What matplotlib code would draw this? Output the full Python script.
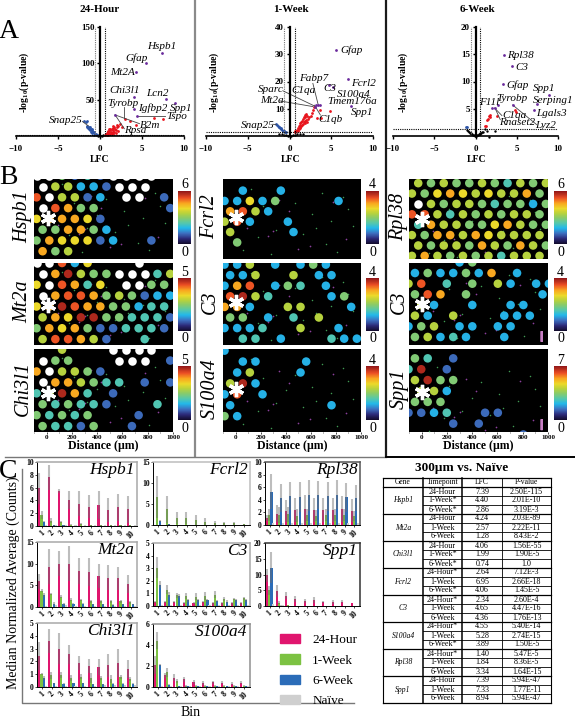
from __future__ import annotations

import matplotlib

matplotlib.use("Agg")

import matplotlib.pyplot as plt
import numpy as np
from matplotlib.cm import ScalarMappable
from matplotlib.colors import LinearSegmentedColormap, Normalize
from matplotlib.patches import Circle, Patch

plt.rcParams["font.family"] = ["Liberation Serif", "DejaVu Serif"]
plt.rcParams["mathtext.fontset"] = "custom"
plt.rcParams["mathtext.rm"] = "Liberation Serif"
plt.rcParams["mathtext.bf"] = "Liberation Serif:bold"
plt.rcParams["mathtext.it"] = "Liberation Serif:italic"

W, H = 575, 718

# --- panel A: volcano plots
RED = "#e8141c"
BLUE = "#2d55a8"
PURPLE = "#6a2a9c"

H24_RED_X = [0.6, 0.7, 0.8, 0.9, 1.0, 1.0, 1.1, 1.2, 1.2, 1.3, 1.4, 1.4, 1.5, 1.5, 1.6, 1.7, 1.7, 1.8, 1.9, 2.0,
             2.0, 2.1, 2.2, 2.4, 2.6, 0.8, 1.0, 1.3, 1.6, 1.9, 3.0, 3.6, 4.3, 6.4, 7.5, 0.9, 1.1, 1.2, 1.5]
H24_RED_Y = [1.5, 3, 4, 5, 3, 7, 5, 8, 3, 6, 9, 4, 11, 5, 8, 13, 6, 10, 8, 15,
             12, 7, 14, 17, 12, 2, 2, 2.5, 3, 4, 24, 20, 15, 25, 23, 6, 9, 10, 14]
H24_BLUE_X = [-0.3, -0.4, -0.5, -0.6, -0.7, -0.7, -0.8, -0.9, -0.9, -1.0, -1.0, -1.1, -1.1, -1.2, -1.2, -1.3, -1.3,
              -1.4, -1.5, -1.6, -1.6, -1.9, -1.7]
H24_BLUE_Y = [1, 2, 3, 3, 5, 2, 6, 4, 8, 5, 9, 6, 10, 8, 12, 9, 13, 11, 12, 14, 20, 20, 19]
H24_BLACK_X = [-0.4, -0.2, 0.0, 0.2, 0.4]
H24_BLACK_Y = [1.0, 0.5, 0.2, 0.5, 1.0]
H24_PURPLE_X = [7.4, 5.5, 4.3, 4.0, 7.8, 8.9, 4.1, 4.4, 1.8]
H24_PURPLE_Y = [114, 100, 88, 54, 51, 45, 37, 27, 29]
H24_LABELS = [("Hspb1", 5.65, 122.5), ("Gfap", 3.0, 106.5), ("Mt2A", 1.2, 88), ("Chi3l1", 1.07, 62),
              ("Lcn2", 5.5, 58.5), ("Tyrobp", 0.87, 45), ("Igfbp2", 4.5, 39), ("Spp1", 8.3, 38),
              ("Tspo", 7.9, 26.5), ("B2m", 4.7, 14.6), ("Rpsa", 2.9, 7), ("Snap25", -6.1, 21)]
H24_LEADERS = [(2.85, 40, 2.85, 25), (4.4, 27, 7.7, 27), (1.8, 29, 2.9, 10), (1.8, 29, 4.7, 17), (-2.1, 20, -1.4, 14)]

W1_RED_X = [0.6, 0.7, 0.8, 0.9, 1.0, 1.0, 1.1, 1.1, 1.2, 1.2, 1.3, 1.3, 1.4, 1.4, 1.5, 1.5, 1.6, 1.6, 1.7, 1.7,
            1.8, 1.8, 1.9, 1.9, 2.0, 2.0, 2.1, 2.1, 2.2, 2.3, 2.6, 2.7, 2.8, 3.3, 3.8, 4.8, 2.9, 3.6]
W1_RED_Y = [1.4, 1.7, 2, 2.3, 2, 3, 2.5, 3.5, 3, 4, 3.4, 4.6, 3.6, 5, 4.2, 5.6, 4.4, 6.2, 5, 6.8,
            4.6, 7, 5.4, 7.6, 6, 8, 5.2, 7.4, 6.4, 6.8, 7.4, 8.4, 9.6, 6.6, 6.5, 9, 10.6, 9.6]
W1_BLUE_X = [-0.4, -0.5, -0.6, -0.7, -0.8, -0.9, -1.0, -1.0, -1.1, -1.2, -1.3, -1.4, -1.5, -1.6]
W1_BLUE_Y = [1.4, 1.5, 1.7, 1.9, 2, 2.2, 2.4, 2.8, 2.9, 3.2, 3.4, 3.8, 4.2, 4.4]
W1_BLACK_X = [-1.2, -0.9, -0.6, -0.4, -0.2, 0.0, 0.2, 0.4, 0.6, 0.9, 1.3, 1.6]
W1_BLACK_Y = [0.9, 0.7, 0.5, 0.3, 0.1, 0.0, 0.1, 0.3, 0.5, 0.7, 0.6, 0.8]
W1_PURPLE_X = [5.57, 6.96, 4.7, 5.25, 7.35, 3.2, 3.4, 3.6, 3.0]
W1_PURPLE_Y = [31.7, 20.9, 18.7, 17.8, 11, 11.3, 11.5, 11.5, 10.6]
W1_LABELS = [("Gfap", 6.05, 31.5), ("Fabp7", 1.2, 21.1), ("Sparc", -3.8, 17), ("C1qa", 0.2, 16.6), ("C3", 4, 17.4),
             ("Fcrl2", 7.35, 19.3), ("S100a4", 5.65, 15.4), ("Tmem176a", 4.55, 12.6), ("Mt2a", -3.5, 12.9),
             ("Spp1", 7.4, 8.5), ("C1qb", 3.5, 6.1), ("Snap25", -5.85, 4)]
W1_LEADERS = [(-0.8, 16.6, 3, 11), (-1.2, 12.9, 2.8, 10.8), (2.8, 19.3, 3.45, 11.3), (3, 11.3, 3.7, 7.7),
              (-2, 4.3, -1.6, 4.2)]

W6_RED_X = [4.8, 4.9, 2.6, 1.8, 1.6, 1.4, 1.3, 1.1, 1.7, 1.5]
W6_RED_Y = [4.8, 4.4, 3.7, 3.9, 3.7, 2.9, 1.9, 1.8, 3.4, 3.2]
W6_BLUE_X = [-1.0, -1.1]
W6_BLUE_Y = [1.7, 1.6]
W6_BLACK_X = [-1, -0.9, -0.8, -0.7, -0.6, -0.5, -0.4, -0.3, -0.2, -0.1, 0, 0.1, 0.2, 0.3, 0.4, 0.5, 0.6, 0.7, 0.8,
              0.9, 1.2, 1.4, 2.4, 1.6]
W6_BLACK_Y = [1.1, 0.9, 0.8, 0.6, 0.5, 0.4, 0.3, 0.2, 0.1, 0.05, 0, 0.05, 0.1, 0.2, 0.3, 0.4, 0.5, 0.6, 0.7,
              0.8, 1.2, 0.9, 0.9, -0.1]
W6_PURPLE_X = [3.4, 4.4, 3.3, 8.85, 7.4, 7.15, 2.7, 2.0, 2.4, 4.5]
W6_PURPLE_Y = [14.8, 12.8, 9.6, 7.5, 5.8, 4.85, 5.7, 5.1, 5.1, 5.7]
W6_LABELS = [("Rpl38", 3.8, 14.7), ("C3", 4.85, 12.6), ("Gfap", 3.7, 9.4), ("Spp1", 7.0, 8.65),
             ("Serping1", 7.0, 6.6), ("Tyrobp", 2.5, 6.9), ("F11l", 0.4, 6.2), ("Lgals3", 7.3, 4.05),
             ("C1qa", 3.2, 3.75), ("Rnaset2", 2.85, 2.5), ("Lyz2", 7.2, 2.0)]
W6_LEADERS = [(2.3, 5.15, 3.2, 3.75), (2.4, 5.0, 3.0, 3.0), (4.5, 5.7, 7.4, 2.1)]

# --- panel B: one string per row of spots. "." = no signal, "W" = saturated, 1-9 = colour bar level
HSPB1_SPOTS = ["WW4131WWWW.", "W55221WWW..", "8W5512.WW.1", "W8744.....1",
               "677761.....", "447742.....", "4766612..1.", "745........"]
MT2A_SPOTS = ["WW826...W..", "W7954 4WWW35".replace(" ", ""), "6W8736.WW44", "W788745 4122".replace(" ", ""),
              "67987744233", "57699443331", "47674113331", "58875 1..3..".replace(" ", "")]
CHI3L1_SPOTS = ["..5...WWWW.", "W44...WWW.1", "7W5541.....", "W7754 33.1.1".replace(" ", ""),
                "35973.1....", "434331...3.".replace("434331", "43433 1".replace(" ", "")), "43434...1..", "43314..1..."]
FCRL2_SPOTS = ["...........", ".2..2......", "22624....2.", "7852.......",
               "582..2.....", "5....2.....", ".4.........", "..........."]
C3_W1_SPOTS = ["225.2.242..", "225..5.22..", "278.243.2..", "8953....24.",
               "772..55...2", "44.2.3.5...", "2223..5..2.", ".33.2...322"]
S100A4_SPOTS = ["2..........", ".22...2....", ".25...2....", "592........",
                "28.2.......", "2.......2..", "42.........", "..........."]
RPL38_SPOTS = ["54544543545", "54676565574", "W5455434424", "88535454554",
               "37554467544", "54775765555", "54554754754", "57545453555"]
C3_W6_SPOTS = ["....24.....", "2422427.2..", "58.3.4.52.22", "487.4.....2",
               ".52..2..22.", "52.5...222.", "245.22.22..", "45232..2..."]
SPP1_SPOTS = ["43.1.......", "39.1.......", "5944.......", ".552.......",
              "444........", "1123..11...", "...1.1.....", ".........1."]

SPOT_COLS = [
    [("Hspb1", HSPB1_SPOTS, 6), ("Mt2a", MT2A_SPOTS, 5), ("Chi3l1", CHI3L1_SPOTS, 5)],
    [("Fcrl2", FCRL2_SPOTS, 4), ("C3", C3_W1_SPOTS, 4), ("S100a4", S100A4_SPOTS, 4)],
    [("Rpl38", RPL38_SPOTS, 6), ("C3", C3_W6_SPOTS, 4), ("Spp1", SPP1_SPOTS, 7)],
]
# x of left spot in the two kinds of row, first row kind, row limits, asterisk (x, row)
SPOT_LAYOUT = [
    [(-80, -32, 0, 0.3, 7.72, 13, 3.94), (-80, -32, 0, 0.0, 7.54, 10, 3.9), (-80, -32, 0, -0.06, 7.54, 10, 3.95)],
    [(-88, -43, 0, -0.12, 7.6, 0, 3.5), (-88, -43, 0, -0.15, 7.6, 0, 3.5), (-88, -43, 0, -0.15, 7.45, 0, 3.5)],
    [(-77, -27, 1, -0.4, 7.3, 0, 3.45), (-104, -53, 0, 0.06, 7.75, 0, 3.9), (-104, -53, 1, -0.86, 6.77, 0, 3.05)],
]
SPOT_ROWS_PX = [(179, 259), (263, 345), (349, 432)]
SPOT_COLS_PX = [(34, 173), (223, 361), (409, 548)]
BAR_COLS_PX = [(178, 191), (366, 379), (554, 567)]
BAR_ROWS_PX = [(191, 244), (278, 331), (366, 420)]
GENE_X_PX = [23, 210, 399]
DUST_GREEN_X = [60, 175, 320, 470, 610, 720, 860, 940, 120, 280, 540, 690, 810, 400, 640, 900, 220, 760]
DUST_GREEN_Y = [6.7, 5.5, 4.8, 2.2, 3.3, 6.2, 1.6, 4.4, 0.8, 7.1, 5.2, 1.2, 6.9, 3.6, 4.6, 2.8, 2.5, 3.9]
DUST_PURPLE_X = [90, 260, 300, 430, 590, 780, 500, 350, 880]
DUST_PURPLE_Y = [4.6, 5.4, 4.9, 3.0, 6.3, 2.1, 6.6, 1.9, 5.7]

SPOT_CMAP = LinearSegmentedColormap.from_list("spots", [
    (0.0, "#120a2a"), (0.1, "#2c2a78"), (0.2, "#3d6fc0"), (0.3, "#22b8ea"), (0.4, "#58c8a8"), (0.5, "#8ccb66"),
    (0.58, "#b8d23c"), (0.67, "#ecd92a"), (0.77, "#f9a51f"), (0.87, "#ec4e24"), (1.0, "#8e1518"),
])

# --- panel C: bar charts
BINS = [1, 2, 3, 4, 5, 6, 7, 8, 9, 10]
SERIES_NAMES = ["24-Hour", "1-Week", "6-Week", "Naïve"]
SERIES_COLORS = ["#e0156e", "#7cc242", "#2b6cb8", "#cfcfcf"]

HSPB1_MEAN = [[5.9, 7.6, 5.5, 4.1, 3.5, 3.0, 3.3, 2.5, 2.9, 2.6],
              [1.7, 0.8, 0.6, 0.2, 0.3, 0.1, 0.1, 0.1, 0.1, 0.1],
              [0.7, 0.1, 0.1, 0.05, 0.05, 0.05, 0.05, 0.05, 0.05, 0.05],
              [0.2, 0.1, 0.1, 0.1, 0.1, 0.1, 0.1, 0.1, 0.1, 0.1]]
HSPB1_ERR = [[2.4, 2.0, 0.3, 1.4, 2.0, 1.8, 2.2, 1.8, 2.1, 2.1],
             [0.6, 0.4, 0.2, 0.1, 0.1, 0.05, 0.05, 0.05, 0.05, 0.05],
             [0.1, 0.05, 0.05, 0, 0, 0, 0, 0, 0, 0]]
MT2A_MEAN = [[5.9, 9.3, 10, 10, 8.2, 8.0, 7.2, 6.8, 6.6, 5.4],
             [3.8, 3.0, 2.4, 1.7, 1.6, 1.3, 1.3, 1.3, 1.3, 1.1],
             [2.8, 0.8, 0.7, 0.8, 0.8, 0.6, 0.6, 0.5, 0.6, 0.6],
             [0.3, 0.5, 0.4, 0.3, 0.3, 0.2, 0.2, 0.2, 0.2, 0.2]]
MT2A_ERR = [[1.8, 4.0, 2.9, 4.0, 3.0, 3.2, 2.8, 2.8, 2.7, 2.1],
            [0.4, 0.3, 0.3, 0.3, 0.3, 0.3, 0.3, 0.3, 0.3, 0.3],
            [0.4, 0.3, 0.2, 0.2, 0.2, 0.2, 0.2, 0.2, 0.2, 0.2]]
CHI3L1_MEAN = [[2.4, 3.6, 3.0, 2.55, 1.9, 1.65, 1.55, 1.7, 1.9, 1.4],
               [1.0, 0.9, 0.95, 0.7, 0.8, 0.7, 0.7, 0.6, 0.75, 0.6],
               [0.7, 0.3, 0.25, 0.3, 0.3, 0.2, 0.2, 0.25, 0.25, 0.25],
               [0.1, 0.1, 0.1, 0.1, 0.1, 0.1, 0.15, 0.15, 0.15, 0.15]]
CHI3L1_ERR = [[1.1, 0.95, 1.2, 0.75, 0.55, 0.55, 0.6, 0.9, 1.1, 0.7],
              [0.1, 0.3, 0.25, 0.2, 0.2, 0.4, 0.15, 0.3, 0.15, 0.15],
              [0.15, 0.05, 0.05, 0.05, 0.05, 0.05, 0.05, 0.05, 0.05, 0.05]]
FCRL2_MEAN = [[0.05, 0.05, 0.05, 0.05, 0.05, 0.05, 0.05, 0.05, 0.05, 0.05],
              [6.7, 3.7, 1.7, 1.7, 1.2, 0.7, 0.5, 0.4, 0.4, 0.2],
              [1.0, 0.2, 0.1, 0.05, 0.05, 0.05, 0.05, 0.05, 0.05, 0.05],
              [0.1, 0.1, 0.1, 0.1, 0.1, 0.1, 0.1, 0.1, 0.1, 0.1]]
FCRL2_ERR = [[0, 0, 0, 0, 0, 0, 0, 0, 0, 0],
             [5.0, 3.2, 1.5, 1.5, 1.2, 0.9, 0.5, 0.3, 0.3, 0.1],
             [0.2, 0.1, 0, 0, 0, 0, 0, 0, 0, 0]]
C3_MEAN = [[0.3, 0.3, 0.3, 0.25, 0.25, 0.3, 0.2, 0.2, 0.2, 0.2],
           [3.05, 1.3, 0.85, 0.8, 0.75, 0.8, 0.9, 0.55, 0.55, 0.6],
           [1.7, 0.9, 0.8, 0.45, 0.45, 0.45, 0.4, 0.35, 0.45, 0.45],
           [0.1, 0.1, 0.1, 0.1, 0.1, 0.1, 0.1, 0.1, 0.1, 0.1]]
C3_ERR = [[0.1, 0.1, 0.1, 0.1, 0.1, 0.1, 0.1, 0.1, 0.1, 0.1],
          [0.8, 0.35, 0.2, 0.25, 0.3, 0.3, 0.3, 0.15, 0.1, 0.1],
          [0.3, 0.2, 0.15, 0.1, 0.1, 0.1, 0.1, 0.1, 0.1, 0.1]]
S100A4_MEAN = [[2.1, 1.1, 0.9, 0.75, 0.45, 0.35, 0.45, 0.4, 0.3, 0.4],
               [4.4, 1.4, 0.6, 0.1, 0.1, 0.1, 0.1, 0.1, 0.1, 0.1],
               [2.1, 0.2, 0.05, 0.05, 0.05, 0.05, 0.05, 0.05, 0.05, 0.05],
               [0.1, 0.1, 0.1, 0.1, 0.1, 0.1, 0.1, 0.1, 0.1, 0.1]]
S100A4_ERR = [[0.9, 0.2, 0.3, 0.25, 0.2, 0.2, 0.15, 0.15, 0.15, 0.15],
              [0.8, 0.4, 0.2, 0.1, 0.05, 0.05, 0.05, 0.05, 0.05, 0.05],
              [0.1, 0.05, 0, 0, 0, 0, 0, 0, 0, 0]]
RPL38_MEAN = [[1.1, 1.8, 2.2, 2.4, 2.5, 2.4, 2.4, 2.4, 2.5, 2.3],
              [1.6, 1.6, 1.7, 1.5, 1.6, 1.5, 1.6, 1.6, 1.6, 1.4],
              [5.3, 4.3, 4.6, 4.4, 4.7, 4.8, 4.6, 4.8, 4.4, 4.3],
              [0.3, 0.3, 0.3, 0.3, 0.3, 0.3, 0.3, 0.3, 0.3, 0.3]]
RPL38_ERR = [[0.5, 1.4, 1.8, 1.9, 2.3, 1.9, 1.9, 1.9, 2.1, 1.8],
             [1.0, 1.3, 1.2, 1.0, 1.0, 0.9, 0.9, 0.9, 0.9, 0.8],
             [2.8, 2.2, 2.2, 2.4, 2.4, 2.2, 2.3, 2.3, 2.3, 2.1]]
SPP1_MEAN = [[9.7, 4.8, 3.3, 2.3, 1.6, 1.8, 1.2, 1.3, 1.4, 0.9],
             [5.0, 1.1, 0.3, 0.1, 0.1, 0.05, 0.05, 0.05, 0.05, 0.05],
             [12.2, 0.1, 0.1, 0.05, 0.05, 0.05, 0.05, 0.05, 0.05, 0.05],
             [0.5, 0.2, 0.1, 0.1, 0.1, 0.1, 0.1, 0.1, 0.1, 0.1]]
SPP1_ERR = [[2.0, 1.8, 1.2, 1.0, 0.7, 0.9, 0.3, 0.7, 0.6, 0.1],
            [1.5, 0.5, 0.1, 0, 0, 0, 0, 0, 0, 0],
            [5.0, 0.1, 0, 0, 0, 0, 0, 0, 0, 0]]

# --- table
TABLE_HEADER = ["Gene", "Timepoint", "LFC", "P-value"]
TABLE_GENES = ["Hspb1", "Mt2a", "Chi3l1", "Fcrl2", "C3", "S100a4", "Rpl38", "Spp1"]
TABLE_TIMES = ["24-Hour", "1-Week*", "6-Week*", "24-Hour", "1-Week", "6-Week", "24-Hour", "1-Week*", "6-Week*",
               "24-Hour*", "1-Week", "6-Week*", "24-Hour*", "1-Week", "6-Week", "24-Hour*", "1-Week", "6-Week*",
               "24-Hour*", "1-Week", "6-Week", "24-Hour", "1-Week", "6-Week"]
TABLE_LFC = ["7.39", "4.40", "2.86", "4.24", "2.57", "1.28", "4.06", "1.99", "0.74", "2.64", "6.95", "4.06",
             "2.34", "4.65", "4.36", "4.55", "5.28", "3.89", "1.40", "1.84", "3.34", "7.39", "7.33", "8.94"]
TABLE_P = ["2.50E-115", "2.01E-10", "3.19E-3", "2.03E-89", "2.22E-11", "8.43E-2", "1.56E-55", "1.90E-5", "1.0",
           "7.12E-3", "2.66E-18", "1.45E-5", "2.60E-4", "4.47E-16", "1.76E-13", "5.40E-14", "2.74E-15", "1.50E-5",
           "5.47E-5", "8.36E-5", "1.64E-15", "5.94E-47", "1.77E-11", "5.94E-47"]


def px_axes(fig, x0, y0, x1, y1, **kwargs):
    # pixel box measured from the top left of the picture
    return fig.add_axes([x0 / W, 1 - y1 / H, (x1 - x0) / W, (y1 - y0) / H], **kwargs)


def volcano(fig, box, ymax, yticks, red, blue, black, purple, labels, leaders):
    ax = px_axes(fig, *box)
    ax.set_xlim(-10, 10)
    ax.set_ylim(0, ymax)
    ax.patch.set_alpha(0)
    for side in ("top", "right"):
        ax.spines[side].set_visible(False)
    ax.spines["left"].set_position(("data", 0))
    ax.spines["left"].set_linewidth(1.6)
    ax.spines["bottom"].set_linewidth(1.2)
    ax.set_xticks([-10, -5, 0, 5, 10])
    ax.set_yticks(yticks)
    ax.tick_params(length=2.5, width=1, pad=1.5, labelsize=6.5)
    for tick in ax.get_xticklabels() + ax.get_yticklabels():
        tick.set_fontweight("bold")
    ax.tick_params(axis="x", pad=4)
    ax.axvline(-0.6, color="#777777", lw=0.8, ls=(0, (1, 1)))
    ax.axvline(0.6, color="black", lw=0.8, ls=(0, (1, 1)))
    ax.axhline(1.3, color="black", lw=0.8, ls=(0, (1, 1)))
    for x0, y0, x1, y1 in leaders:
        ax.plot([x0, x1], [y0, y1], color="#444444", lw=0.6)
    ax.scatter(*black, s=3, color="black", lw=0, clip_on=False)
    ax.scatter(*blue, s=4, color=BLUE, lw=0)
    ax.scatter(*red, s=4, color=RED, lw=0)
    ax.scatter(*purple, s=4, color=PURPLE, lw=0, zorder=4)
    for name, x, y in labels:
        ax.text(x, y, name, fontsize=8, style="italic", va="center", ha="left", zorder=5)
    return ax


def spot_panel(fig, box, rows, vmax, layout, label_ticks):
    x_even, x_odd, parity, row_top, row_bottom, star_x, star_row = layout
    ax = px_axes(fig, *box)
    ax.set_facecolor("black")
    ax.set_xlim(-100, 1000)
    ax.set_ylim(row_bottom, row_top)
    ax.scatter(DUST_GREEN_X, DUST_GREEN_Y, s=1.2, color="#3f9a52", lw=0)
    ax.scatter(DUST_PURPLE_X, DUST_PURPLE_Y, s=1.5, color="#8a3f9c", lw=0)
    xs, ys, vals, white_x, white_y = [], [], [], [], []
    for r, row in enumerate(rows):
        start = x_odd if (r + parity) % 2 else x_even
        for k, ch in enumerate(row):
            x = start + 101 * k
            if ch == "W":
                white_x.append(x)
                white_y.append(r)
            elif ch != ".":
                xs.append(x)
                ys.append(r)
                vals.append((0.1 + 0.095 * int(ch)) * vmax)
    ax.scatter(white_x, white_y, s=38, color="white", lw=0)
    ax.scatter(xs, ys, c=vals, s=38, cmap=SPOT_CMAP, vmin=0, vmax=vmax, lw=0)
    ax.plot([star_x], [star_row], marker=(6, 2, 0), ms=11, mew=2.4, color="white", zorder=6)
    for side in ax.spines.values():
        side.set_visible(False)
    ax.set_yticks([])
    ax.set_xticks([0, 200, 400, 600, 800, 1000])
    ax.set_xticks([-100, 100, 300, 500, 700, 900], minor=True)
    if label_ticks:
        ax.tick_params(axis="x", length=1.5, width=0.5, pad=1, labelsize=5)
        ax.tick_params(axis="x", which="minor", length=1, width=0.4)
        for tick in ax.get_xticklabels():
            tick.set_fontweight("bold")
        ax.set_xlabel("Distance (µm)", fontsize=8.5, fontweight="bold", labelpad=0)
    else:
        ax.tick_params(axis="x", which="both", length=0, labelbottom=False)
    return ax


def bar_panel(fig, box, ymax, yticks, mean, err, gene, frame):
    ax = px_axes(fig, *box)
    ax.set_xlim(0.5, 10.63)
    ax.set_ylim(0, ymax)
    x = np.array(BINS, dtype=float)
    offsets = [-0.27, -0.04, 0.19, 0.4]
    for vals, off, color in zip(mean, offsets, SERIES_COLORS):
        ax.bar(x + off, vals, 0.22, color=color, lw=0)
    for vals, spread, off in zip(mean, err, offsets):
        ax.errorbar(x + off, vals, yerr=spread, fmt="none", ecolor="#6e6e6e", elinewidth=1.5, alpha=0.45,
                    capsize=0, clip_on=False)
    ax.set_xticks(BINS)
    ax.set_yticks(yticks)
    ax.tick_params(length=1.5, width=0.5, pad=1, labelsize=5.5)
    plt.setp(ax.get_xticklabels(), rotation=45, ha="center", fontweight="bold")
    plt.setp(ax.get_yticklabels(), fontweight="bold")
    for side in ("top", "right"):
        ax.spines[side].set_color(frame)
        ax.spines[side].set_linewidth(1.1)
    for side in ("left", "bottom"):
        ax.spines[side].set_linewidth(0.7)
    ax.text(0.975, 0.87, gene, transform=ax.transAxes, fontsize=12.5, style="italic", ha="right", va="center")
    return ax


def draw_table(fig):
    ax = px_axes(fig, 383, 478, 551, 703)
    ax.set_xlim(0, 503)
    ax.set_ylim(25, 0)
    ax.axis("off")
    edges = [0, 120, 237, 357, 503]
    centers = [60, 178, 297, 430]
    for text, cx in zip(TABLE_HEADER, centers):
        ax.text(cx, 0.5, text, fontsize=5.5, ha="center", va="center")
    for i in range(len(TABLE_TIMES)):
        y = i + 1.5
        ax.text(centers[1], y, TABLE_TIMES[i], fontsize=5.8, ha="center", va="center")
        ax.text(centers[2], y, TABLE_LFC[i], fontsize=5.8, ha="center", va="center")
        ax.text(centers[3], y, TABLE_P[i], fontsize=5.8, ha="center", va="center")
    for i, gene in enumerate(TABLE_GENES):
        ax.text(centers[0], 3 * i + 2.5, gene, fontsize=5.5, style="italic", ha="center", va="center")
    for i in range(26):
        group_line = (i - 1) % 3 == 0 or i == 0
        ax.plot([edges[1] if not group_line else 0, 503], [i, i], color="black",
                lw=0.9 if group_line else 0.6, clip_on=False)
    for x, lw in zip(edges, [0.8, 1.1, 1.1, 0.6, 0.8]):
        ax.plot([x, x], [0, 25], color="black", lw=lw, clip_on=False)


def main() -> None:
    fig = plt.figure(figsize=(W / 100, H / 100), dpi=100)

    # page furniture drawn in pixel coordinates
    page = fig.add_axes([0, 0, 1, 1], zorder=-1)
    page.set_xlim(0, W)
    page.set_ylim(H, 0)
    page.axis("off")
    page.plot([195, 195], [0, 456], color="#8a8a8a", lw=1.6)
    page.plot([386, 386], [0, 456], color="#1a1a1a", lw=1.6)
    page.plot([5, 386], [457, 457], color="#777777", lw=1)
    page.plot([386, 575], [457, 457], color="black", lw=1.4)
    page.plot([22, 22, 354], [469, 703, 703], color="#777777", lw=1)

    for letter, x, y in [("A", 9, 32), ("B", 8, 177), ("C", 8, 472)]:
        page.text(x, y, letter, fontsize=20, ha="center", va="center")
    for title, x in [("24-Hour", 100), ("1-Week", 291), ("6-Week", 477)]:
        page.text(x, 10, title, fontsize=8, fontweight="bold", ha="center", va="center")
    for x in (24, 214, 403):
        page.text(x, 82, r"-log$_{\mathbf{10}}$(p-value)", fontsize=7, fontweight="bold", rotation=90,
                  ha="center", va="center")
    for x in (100, 291, 477):
        page.text(x, 160, "LFC", fontsize=7, fontweight="bold", ha="center", va="center")

    volcano(fig, (16, 27, 184, 136), 150, [50, 100, 150], (H24_RED_X, H24_RED_Y), (H24_BLUE_X, H24_BLUE_Y),
            (H24_BLACK_X, H24_BLACK_Y), (H24_PURPLE_X, H24_PURPLE_Y), H24_LABELS, H24_LEADERS)
    volcano(fig, (206, 27, 373, 136), 40, [10, 20, 30, 40], (W1_RED_X, W1_RED_Y), (W1_BLUE_X, W1_BLUE_Y),
            (W1_BLACK_X, W1_BLACK_Y), (W1_PURPLE_X, W1_PURPLE_Y), W1_LABELS, W1_LEADERS)
    volcano(fig, (393, 27, 558, 136), 20, [5, 10, 15, 20], (W6_RED_X, W6_RED_Y), (W6_BLUE_X, W6_BLUE_Y),
            (W6_BLACK_X, W6_BLACK_Y), (W6_PURPLE_X, W6_PURPLE_Y), W6_LABELS, W6_LEADERS)

    # spot panels with their colour bars
    for c, column in enumerate(SPOT_COLS):
        for r, (gene, rows, vmax) in enumerate(column):
            y0, y1 = SPOT_ROWS_PX[r]
            ax = spot_panel(fig, (SPOT_COLS_PX[c][0], y0, SPOT_COLS_PX[c][1], y1), rows, vmax,
                            SPOT_LAYOUT[c][r], r == 2)
            if c == 2 and r > 0:
                ax.add_patch(Circle((950, 6.95 if r == 1 else 6.1), 0.5, transform=ax.transData, fill=False,
                                    ec="#c77fc4", lw=1.5))
            page.text(GENE_X_PX[c], (y0 + y1) / 2 - 2, gene, fontsize=14.5, style="italic", rotation=90,
                      ha="center", va="center")
            b0, b1 = BAR_ROWS_PX[r]
            cax = px_axes(fig, BAR_COLS_PX[c][0], b0, BAR_COLS_PX[c][1], b1)
            cbar = fig.colorbar(ScalarMappable(Normalize(0, vmax), SPOT_CMAP), cax=cax)
            cbar.set_ticks([])
            cbar.outline.set_visible(False)
            bx = sum(BAR_COLS_PX[c]) / 2
            page.text(bx, b0 - 6, str(vmax), fontsize=10, ha="center", va="center")
            page.text(bx, b1 + 8, "0", fontsize=10, ha="center", va="center")

    # bar charts
    bar_panel(fig, (37, 462, 137, 526), 10, [0, 2, 4, 6, 8, 10], HSPB1_MEAN, HSPB1_ERR, "Hspb1", "#a8a8a8")
    bar_panel(fig, (37, 542, 137, 607), 15, [0, 5, 10, 15], MT2A_MEAN, MT2A_ERR, "Mt2a", "#a8a8a8")
    bar_panel(fig, (37, 623, 137, 687), 5, [0, 1, 2, 3, 4, 5], CHI3L1_MEAN, CHI3L1_ERR, "Chi3l1", "#a8a8a8")
    bar_panel(fig, (153, 462, 250, 525), 15, [0, 5, 10, 15], FCRL2_MEAN, FCRL2_ERR, "Fcrl2", "#bdbdbd")
    bar_panel(fig, (153, 543, 250, 606), 5, [0, 1, 2, 3, 4, 5], C3_MEAN, C3_ERR, "C3", "#a8a8a8")
    bar_panel(fig, (153, 624, 250, 687), 6, [0, 2, 4, 6], S100A4_MEAN, S100A4_ERR, "S100a4", "#8f8f8f")
    bar_panel(fig, (265, 462, 360, 525), 10, [0, 2, 4, 6, 8, 10], RPL38_MEAN, RPL38_ERR, "Rpl38", "#555555")
    bar_panel(fig, (265, 543, 360, 606), 20, [0, 5, 10, 15, 20], SPP1_MEAN, SPP1_ERR, "Spp1", "#333333")

    page.text(13, 583, "Median Normalized Average (Counts)", fontsize=10, rotation=90, ha="center", va="center")
    page.text(191, 712, "Bin", fontsize=10, ha="center", va="center")

    handles = [Patch(color=color) for color in SERIES_COLORS]
    fig.legend(handles, SERIES_NAMES, loc="upper left", bbox_to_anchor=(268 / W, 1 - 622 / H), frameon=False,
               fontsize=9.5, handlelength=1.55, handleheight=0.7, handletextpad=0.9, labelspacing=0.62)

    page.text(462, 468, "300µm vs. Naïve", fontsize=9.5, fontweight="bold", ha="center", va="center")
    draw_table(fig)

    fig.savefig("out.png", dpi=100)
    plt.close(fig)


if __name__ == "__main__":
    main()
